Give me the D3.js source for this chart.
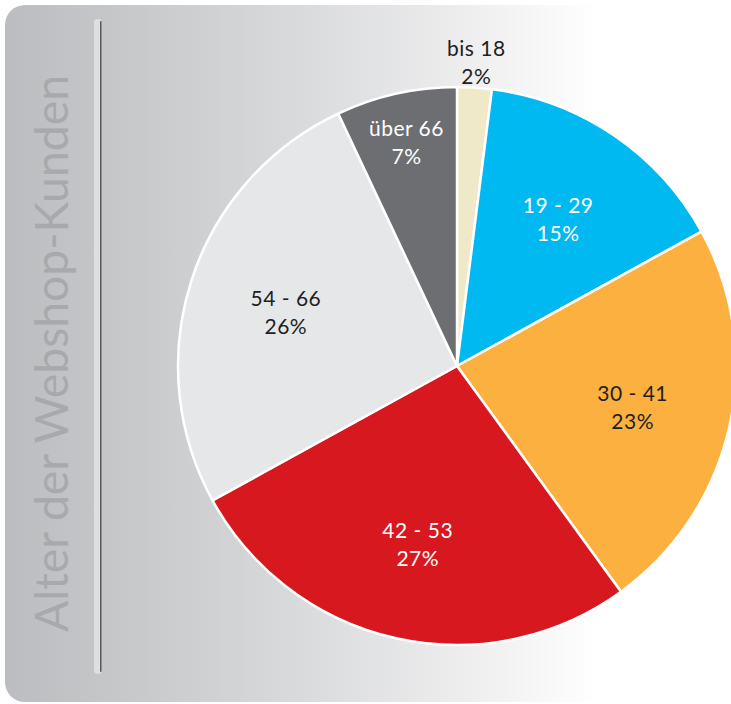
<!DOCTYPE html>
<html>
<head>
<meta charset="utf-8">
<script src="https://cdn.jsdelivr.net/npm/d3@7"></script>
<style>
  html, body { margin: 0; padding: 0; background: #ffffff; }
  svg { display: block; }
</style>
</head>
<body>
<div id="chart"></div>
<script>
// Age groups of webshop customers, share in percent
const categories = ["bis 18", "19 - 29", "30 - 41", "42 - 53", "54 - 66", "über 66"];
const shares = [2, 15, 23, 27, 26, 7];
const sliceColors = ["#efe9c9", "#00b9f1", "#fbb040", "#d7181f", "#e6e7e9", "#6d6e72"];
const labelColors = ["#231f20", "#ffffff", "#231f20", "#ffffff", "#231f20", "#ffffff"];
const title = "Alter der Webshop-Kunden";

const W = 731, H = 704;
const cx = 457, cy = 366, R = 279;

const svg = d3.select("#chart").append("svg")
  .attr("width", W).attr("height", H);

// background panel: grey on the left fading to white
const defs = svg.append("defs");
const grad = defs.append("linearGradient")
  .attr("id", "bg").attr("gradientUnits", "userSpaceOnUse")
  .attr("x1", 0).attr("y1", 0).attr("x2", W).attr("y2", 0);
[[0, "#bbbcbf"], [0.2, "#c9cacc"], [0.42, "#dadbdd"], [0.62, "#ececed"], [0.82, "#ffffff"], [1, "#ffffff"]]
  .forEach(([o, c]) => grad.append("stop").attr("offset", o).attr("stop-color", c));

svg.append("rect")
  .attr("x", 5).attr("y", 5).attr("width", W + 40).attr("height", 697)
  .attr("rx", 20).attr("ry", 20)
  .attr("fill", "url(#bg)");

// vertical divider next to the title
svg.append("rect")
  .attr("x", 94).attr("y", 19).attr("width", 8).attr("height", 655)
  .attr("rx", 4).attr("fill", "#dedfe1");
svg.append("rect")
  .attr("x", 100).attr("y", 21).attr("width", 1.6).attr("height", 651)
  .attr("rx", 0.8).attr("fill", "#58595b");

// rotated title
const titleText = svg.append("text")
  .attr("transform", `translate(68, 632) rotate(-90)`)
  .attr("font-family", "Lato, 'Open Sans', sans-serif")
  .attr("font-size", 46)
  .attr("fill", "#a8a9ac")
  .text(title);
const tl = titleText.node().getComputedTextLength();
if (tl > 0) titleText.attr("textLength", 557).attr("lengthAdjust", "spacingAndGlyphs");

// pie
const data = categories.map((c, i) => ({ cat: c, value: shares[i], i }));
const pie = d3.pie().value(d => d.value).sort(null);
const arcs = pie(data);
const arc = d3.arc().innerRadius(0).outerRadius(R);

const g = svg.append("g").attr("transform", `translate(${cx},${cy})`);

g.selectAll("path.slice")
  .data(arcs)
  .join("path")
  .attr("class", "slice")
  .attr("d", arc)
  .attr("fill", d => sliceColors[d.data.i])
  .attr("stroke", "#ffffff")
  .attr("stroke-width", 2.5)
  .attr("stroke-linejoin", "round");

// label radius: big slices inside, narrow slice further out, tiny slice outside
function labelRadius(d) {
  if (d.data.value < 5) return R * 1.1;
  if (d.data.value < 10) return R * 0.83;
  return R * 0.645;
}

const labels = g.selectAll("g.label")
  .data(arcs)
  .join("g")
  .attr("class", "label")
  .attr("transform", d => {
    const a = (d.startAngle + d.endAngle) / 2;
    const r = labelRadius(d);
    return `translate(${r * Math.sin(a)},${-r * Math.cos(a)})`;
  });

labels.append("text")
  .attr("text-anchor", "middle")
  .attr("font-family", "Lato, 'Open Sans', sans-serif")
  .attr("font-size", 21)
  .attr("letter-spacing", 0.5)
  .attr("fill", d => labelColors[d.data.i])
  .selectAll("tspan")
  .data(d => [d.data.cat, d.data.value + "%"])
  .join("tspan")
  .attr("x", 0)
  .attr("y", (t, k) => k === 0 ? -4 : 24)
  .text(t => t);
</script>
</body>
</html>
